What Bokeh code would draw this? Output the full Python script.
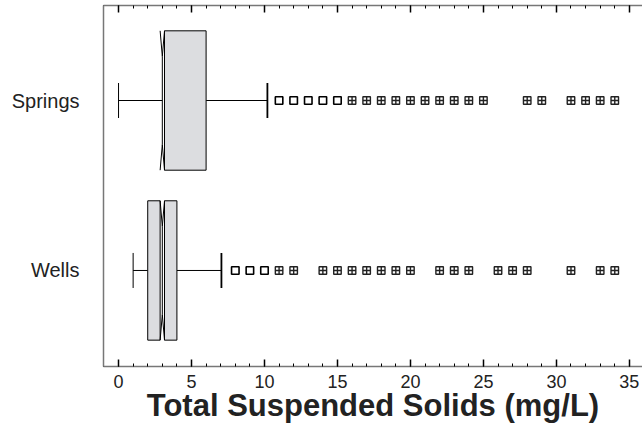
from bokeh.plotting import figure
from bokeh.models import LinearAxis, SingleIntervalTicker, FixedTicker, Range1d, CustomJSTickFormatter
from bokeh.embed import file_html
from bokeh.resources import INLINE

# ---- data ----
groups = ["Springs", "Wells"]
group_pos = [1, 0]
q1 = [3.0, 2.0]
median = [3.0, 3.0]
q3 = [6.0, 4.0]
notch_lo = [2.85, 2.85]
notch_hi = [3.15, 3.15]
whisker_lo = [0.0, 1.0]
whisker_hi = [10.2, 7.05]

springs_out_plain = [11, 12, 13, 14, 15]
springs_out_multi = [16, 17, 18, 19, 20, 21, 22, 23, 24, 25, 28, 29, 31, 32, 33, 34]
wells_out_plain = [8, 9, 10]
wells_out_multi = [11, 12, 14, 15, 16, 17, 18, 19, 20, 22, 23, 24, 26, 27, 28, 31, 33, 34]

x_label = "Total Suspended Solids (mg/L)"

FONT = "Liberation Sans"
BOX_FILL = "#dcdde0"
HALF = 0.41
NOTCH_D = 0.15
CAP = 0.103

p = figure(width=642, height=446, output_backend="svg", toolbar_location=None,
           x_range=Range1d(-1.03, 35.9), y_range=Range1d(-0.565, 1.559),
           x_axis_location=None, y_axis_location=None)
p.min_border_left = 103
p.min_border_right = 0
p.min_border_top = 5
p.min_border_bottom = 80
p.outline_line_color = None
p.xgrid.grid_line_color = None
p.ygrid.grid_line_color = None
p.background_fill_color = "white"
p.border_fill_color = "white"

for i, y in enumerate(group_pos):
    top, bot = y + HALF, y - HALF
    # whiskers
    p.segment(x0=[whisker_lo[i], q3[i]], y0=[y, y], x1=[q1[i], whisker_hi[i]], y1=[y, y],
              line_color="black", line_width=1)
    p.segment(x0=[whisker_lo[i]], y0=[y - CAP], x1=[whisker_lo[i]], y1=[y + CAP],
              line_color="black", line_width=1)
    p.segment(x0=[whisker_hi[i]], y0=[y - CAP], x1=[whisker_hi[i]], y1=[y + CAP],
              line_color="black", line_width=1.8)
    # box parts
    if notch_lo[i] > q1[i]:
        p.quad(left=[q1[i]], right=[notch_lo[i]], top=[top], bottom=[bot],
               fill_color=BOX_FILL, line_color="black", line_width=1)
    p.quad(left=[max(q1[i], notch_hi[i])], right=[q3[i]], top=[top], bottom=[bot],
           fill_color=BOX_FILL, line_color="black", line_width=1)
    # notch lines
    p.line(x=[notch_lo[i], median[i], notch_hi[i]], y=[top, top - NOTCH_D, top],
           line_color="black", line_width=1)
    p.line(x=[notch_lo[i], median[i], notch_hi[i]], y=[bot, bot + NOTCH_D, bot],
           line_color="black", line_width=1)
    p.segment(x0=[median[i]], y0=[bot + NOTCH_D], x1=[median[i]], y1=[top - NOTCH_D],
              line_color="black", line_width=1)

# outliers
for xs, y in [(springs_out_plain, 1), (wells_out_plain, 0)]:
    p.scatter(x=xs, y=[y] * len(xs), marker="square", size=7.5,
              fill_color="white", line_color="black", line_width=1.6)
for xs, y in [(springs_out_multi, 1), (wells_out_multi, 0)]:
    p.scatter(x=xs, y=[y] * len(xs), marker="square_cross", size=7.5,
              fill_color="white", line_color="#222222", line_width=1.4)

def style_x(ax):
    ax.ticker = SingleIntervalTicker(interval=5, num_minor_ticks=5)
    ax.major_tick_in = 7
    ax.major_tick_out = 0
    ax.minor_tick_in = 3
    ax.minor_tick_out = 0
    ax.major_tick_line_color = "black"
    ax.major_tick_line_width = 1.5
    ax.minor_tick_line_color = "black"
    ax.minor_tick_line_width = 1
    ax.axis_line_color = "#777777"
    ax.axis_line_width = 1.5
    ax.major_label_text_font = FONT
    ax.major_label_text_font_size = "18px"
    ax.major_label_text_color = "#222222"

xb = LinearAxis()
style_x(xb)
xb.major_label_standoff = 8
xb.axis_label = x_label
xb.axis_label_text_font = FONT
xb.axis_label_text_font_style = "bold"
xb.axis_label_text_font_size = "31px"
xb.axis_label_text_color = "#222222"
xb.axis_label_standoff = -3
p.add_layout(xb, "below")

xt = LinearAxis()
style_x(xt)
xt.formatter = CustomJSTickFormatter(code="return ''")
xt.major_label_standoff = 0
p.add_layout(xt, "above")

yl = LinearAxis()
yl.ticker = FixedTicker(ticks=group_pos)
yl.major_label_overrides = {1: groups[0], 0: groups[1]}
yl.major_tick_in = 0
yl.major_tick_out = 0
yl.minor_tick_in = 0
yl.minor_tick_out = 0
yl.axis_line_color = "#777777"
yl.axis_line_width = 1.5
yl.major_label_standoff = 24
yl.major_label_text_font = FONT
yl.major_label_text_font_size = "20px"
yl.major_label_text_color = "#222222"
p.add_layout(yl, "left")

open("out.html", "w").write(file_html(p, INLINE))
